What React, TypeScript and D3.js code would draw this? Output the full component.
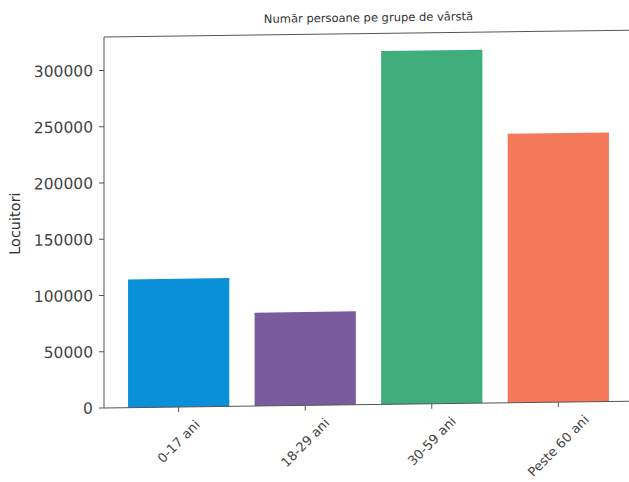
import React, { useEffect, useRef } from "react";
import * as d3 from "d3";

const categories = ["0-17 ani", "18-29 ani", "30-59 ani", "Peste 60 ani"];
const values = [114000, 83000, 314000, 239000];
const colors = ["#0a90d8", "#7a5b9b", "#3fae7a", "#f4795a"];
const yTicks = [0, 50000, 100000, 150000, 200000, 250000, 300000];
const title = "Număr persoane pe grupe de vârstă";
const yLabel = "Locuitori";

export default function App() {
  const ref = useRef<SVGSVGElement>(null);
  useEffect(() => {
    const svg = d3.select(ref.current);
    svg.selectAll("*").remove();
    const font = "'DejaVu Sans', 'Open Sans', sans-serif";
    const left = 104, right = 633, top = 37, bottom = 408;
    const k = 0.013;
    svg.append("rect").attr("width", 629).attr("height", 482).attr("fill", "#fff");
    const g = svg.append("g").attr("transform", `matrix(1,${-k},0,1,0,${k * left})`);
    const n = categories.length;
    const x = d3.scaleLinear().domain([-0.59, n - 1 + 0.59]).range([left, right]);
    const y = d3.scaleLinear().domain([0, (d3.max(values) as number) * 1.05]).range([bottom, top]);
    const bw = x(0.8) - x(0);

    g.selectAll("rect.bar")
      .data(values)
      .join("rect")
      .attr("class", "bar")
      .attr("x", (_, i) => x(i) - bw / 2)
      .attr("width", bw)
      .attr("y", (d) => y(d))
      .attr("height", (d) => y(0) - y(d))
      .attr("fill", (_, i) => colors[i]);

    // spines
    const spine = "#555";
    g.append("line").attr("x1", left).attr("x2", left).attr("y1", top).attr("y2", bottom).attr("stroke", spine).attr("stroke-width", 1);
    g.append("line").attr("x1", left).attr("x2", right).attr("y1", top).attr("y2", top).attr("stroke", spine).attr("stroke-width", 1);
    g.append("line").attr("x1", left).attr("x2", right).attr("y1", bottom).attr("y2", bottom).attr("stroke", spine).attr("stroke-width", 1);
    g.append("line").attr("x1", right).attr("x2", right).attr("y1", top).attr("y2", bottom).attr("stroke", spine).attr("stroke-width", 1);

    // y ticks
    const yt = g.append("g");
    yTicks.forEach((t) => {
      yt.append("line").attr("x1", left - 5).attr("x2", left).attr("y1", y(t)).attr("y2", y(t)).attr("stroke", spine);
      yt.append("text")
        .attr("x", left - 11)
        .attr("y", y(t))
        .attr("dy", "0.36em")
        .attr("text-anchor", "end")
        .attr("font-family", font)
        .attr("font-size", 15.5)
        .attr("fill", "#444")
        .text(String(t));
    });

    // x ticks
    const xt = g.append("g");
    categories.forEach((c, i) => {
      xt.append("line").attr("x1", x(i)).attr("x2", x(i)).attr("y1", bottom).attr("y2", bottom + 5).attr("stroke", spine);
      const t = xt.append("text")
        .attr("text-anchor", "middle")
        .attr("dominant-baseline", "central")
        .attr("font-family", font)
        .attr("font-size", 13)
        .attr("fill", "#444")
        .text(c);
      const L = (t.node() as SVGTextElement).getComputedTextLength();
      const h = 10;
      const bh = (L + h) / Math.SQRT2;
      t.attr("transform", `translate(${x(i)},${bottom + 12 + bh / 2}) rotate(-45)`);
    });

    // y label
    g.append("text")
      .attr("transform", `translate(20,${(top + bottom) / 2}) rotate(-90)`)
      .attr("text-anchor", "middle")
      .attr("font-family", font)
      .attr("font-size", 14.5)
      .attr("fill", "#333")
      .text(yLabel);

    // title
    g.append("text")
      .attr("x", (left + right) / 2)
      .attr("y", 25)
      .attr("text-anchor", "middle")
      .attr("font-family", font)
      .attr("font-size", 11.5)
      .attr("fill", "#333")
      .text(title);
  }, []);
  return (
    <svg
      ref={ref}
      width={629}
      height={482}
      style={{ position: "absolute", left: 0, top: 0, display: "block" }}
    />
  );
}
